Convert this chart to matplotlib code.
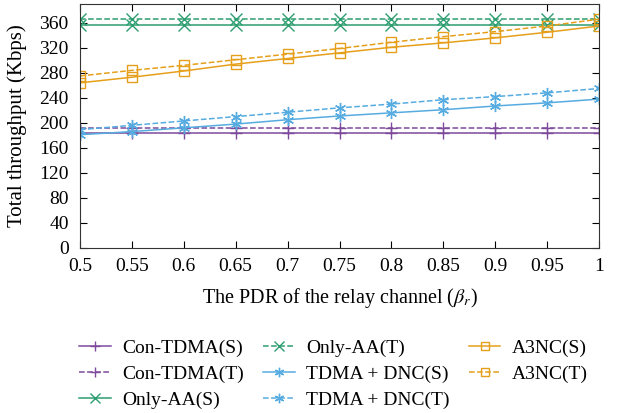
import matplotlib.pyplot as plt

plt.rcParams['font.family'] = ['Liberation Serif', 'DejaVu Serif']
plt.rcParams['mathtext.fontset'] = 'stix'

pdr = [0.5, 0.55, 0.6, 0.65, 0.7, 0.75, 0.8, 0.85, 0.9, 0.95, 1.0]
pdr_labels = ["0.5", "0.55", "0.6", "0.65", "0.7", "0.75", "0.8", "0.85", "0.9", "0.95", "1"]

con_tdma_s = [184] * 11
con_tdma_t = [192] * 11
only_aa_s = [356] * 11
only_aa_t = [367] * 11
dnc_s = [181, 186, 192, 198, 205, 211, 216, 221, 227, 232, 238]
dnc_t = [189, 196, 203, 210, 217, 224, 230, 237, 242, 248, 255]
a3nc_s = [264, 273, 283, 294, 303, 312, 321, 328, 336, 345, 355]
a3nc_t = [275, 284, 292, 301, 310, 319, 329, 338, 346, 355, 366]

purple = "#7D4A9C"
green = "#2E9E70"
blue = "#56ACE0"
orange = "#E69F1A"

fig = plt.figure(figsize=(6.34, 4.13), dpi=100)
ax = fig.add_axes([0.126, 0.400, 0.819, 0.590])

series = [
    (con_tdma_s, purple, "-", "+", "Con-TDMA(S)"),
    (con_tdma_t, purple, "--", "+", "Con-TDMA(T)"),
    (only_aa_s, green, "-", "x", "Only-AA(S)"),
    (only_aa_t, green, "--", "x", "Only-AA(T)"),
    (dnc_s, blue, "-", "*", "TDMA + DNC(S)"),
    (dnc_t, blue, "--", "*", "TDMA + DNC(T)"),
    (a3nc_s, orange, "-", "s", "A3NC(S)"),
    (a3nc_t, orange, "--", "s", "A3NC(T)"),
]
for vals, c, ls, mk, lab in series:
    if mk == "*":
        mk = (6, 2, 0)
    ax.plot(pdr, vals, color=c, linestyle=ls, linewidth=1.1, marker=mk,
            markersize=6.5 if mk == "s" else 8, markeredgewidth=1.0,
            markerfacecolor="none", label=lab)

ax.set_xlim(0.5, 1.0)
ax.set_ylim(0, 390)
ax.set_xticks(pdr)
ax.set_xticklabels(pdr_labels)
ax.set_yticks(range(0, 361, 40))
ax.tick_params(direction="in", top=True, right=True, length=5, labelsize=14)
ax.tick_params(axis="x", pad=7)
ax.tick_params(axis="y", pad=8)
for s in ax.spines.values():
    s.set_color("#333333")
ax.set_xlabel(r"The PDR of the relay channel ($\beta_r$)", fontsize=14.5, labelpad=8)
ax.set_ylabel("Total throughput (Kbps)", fontsize=15, labelpad=9)

fig.legend(loc="upper left", bbox_to_anchor=(0.11, 0.202), ncol=3, frameon=False,
           fontsize=14, handlelength=1.6, columnspacing=1.0, labelspacing=0.42,
           borderpad=0, handletextpad=0.6, markerscale=0.85)

fig.savefig("out.png", dpi=100)
